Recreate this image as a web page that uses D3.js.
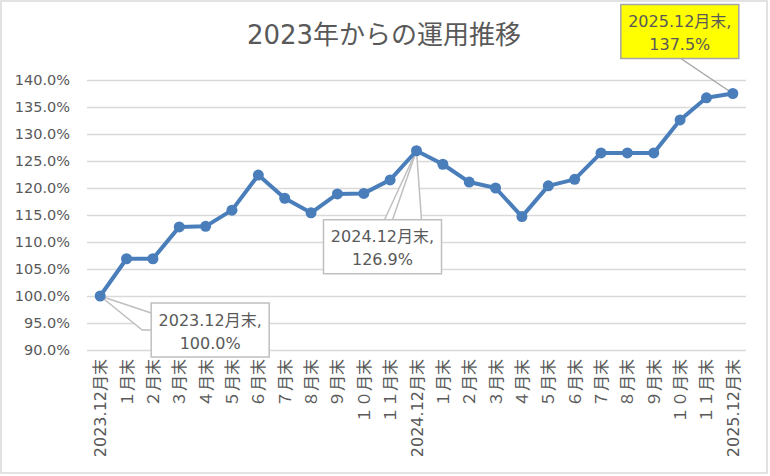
<!DOCTYPE html>
<html>
<head>
<meta charset="utf-8">
<script src="https://cdn.jsdelivr.net/npm/d3@7"></script>
<style>
  body { margin: 0; background: #fff; }
  text { font-family: "DejaVu Sans", "Noto Sans CJK JP", sans-serif; fill: #595959; }
</style>
</head>
<body>
<div id="chart"></div>
<script>
const title = '2023年からの運用推移'
const months = ['2023.12月末', '１月末', '２月末', '３月末', '４月末', '５月末', '６月末', '７月末', '８月末', '９月末', '１０月末', '１１月末',
    '2024.12月末', '１月末', '２月末', '３月末', '４月末', '５月末', '６月末', '７月末', '８月末', '９月末', '１０月末', '１１月末', '2025.12月末']
const values = [100.0, 106.9, 106.9, 112.8, 112.9, 115.9, 122.4, 118.1, 115.4, 118.9, 119.0, 121.5,
    126.9, 124.4, 121.1, 120.0, 114.7, 120.4, 121.6, 126.5, 126.5, 126.5, 132.6, 136.7, 137.5]
const yTicks = [90, 95, 100, 105, 110, 115, 120, 125, 130, 135, 140]
// callouts: which point, and the two text lines
const calloutIdx = [0, 12, 24]
const calloutText = [['2023.12月末,', '100.0%'], ['2024.12月末,', '126.9%'], ['2025.12月末,', '137.5%']]

const width = 770
const height = 476
const plotLeft = 87
const plotRight = 746
const plotTop = 80
const plotBottom = 350

const svg = d3.select('#chart').append('svg')
    .attr('width', width)
    .attr('height', height)

svg.append('rect')
    .attr('x', 1).attr('y', 1)
    .attr('width', 766).attr('height', 472)
    .attr('fill', 'white')
    .attr('stroke', '#d9d9d9')
    .attr('stroke-width', 1.5)

const xScale = d3.scalePoint().domain(d3.range(months.length)).range([plotLeft, plotRight]).padding(0.5)
const yScale = d3.scaleLinear().domain([90, 140]).range([plotBottom, plotTop])

svg.append('text')
    .attr('x', 384)
    .attr('y', 35)
    .attr('text-anchor', 'middle')
    .attr('dominant-baseline', 'central')
    .style('font-size', '26px')
    .text(title)

// grid + y labels
const yAxis = svg.append('g')
    .attr('transform', 'translate(' + plotLeft + ',0)')
    .call(d3.axisLeft(yScale).tickValues(yTicks).tickSize(-(plotRight - plotLeft)).tickPadding(17)
        .tickFormat(d => d.toFixed(1) + '%'))
yAxis.select('.domain').remove()
yAxis.selectAll('line').attr('stroke', '#d9d9d9').attr('stroke-width', 1.5)
yAxis.selectAll('text').style('font-size', '14.5px').attr('fill', '#595959')
    .attr('font-family', null)

// x labels, rotated
const xAxis = svg.append('g')
    .attr('transform', 'translate(0,' + plotBottom + ')')
    .call(d3.axisBottom(xScale).tickSize(0).tickFormat(i => months[i]))
xAxis.select('.domain').remove()
xAxis.selectAll('text')
    .attr('font-family', null)
    .attr('fill', '#595959')
    .style('font-size', '16px')
    .attr('transform', 'rotate(-90)')
    .attr('x', -9)
    .attr('y', 0)
    .attr('dy', null)
    .attr('dominant-baseline', 'central')
    .attr('text-anchor', 'end')

// callout wedges go under the series
const p = i => [xScale(i), yScale(values[i])]
const wedges = svg.append('g')
{
    const [x, y] = p(calloutIdx[0])
    wedges.append('path')
        .attr('d', `M${x + 51},${y + 17} L${x},${y} L${x + 42},${y + 34} L${x + 51},${y + 34}`)
        .attr('fill', 'white').attr('stroke', '#bfbfbf').attr('stroke-width', 1.5)
}
{
    const [x, y] = p(calloutIdx[1])
    wedges.append('path')
        .attr('d', `M${x - 32},${y + 69} L${x},${y} L${x + 5},${y + 69}`)
        .attr('fill', 'white').attr('stroke', '#bfbfbf').attr('stroke-width', 1.5)
    wedges.append('line')
        .attr('x1', x - 24).attr('y1', y + 69).attr('x2', x).attr('y2', y)
        .attr('stroke', '#bfbfbf').attr('stroke-width', 1.5)
}
{
    const [x, y] = p(calloutIdx[2])
    wedges.append('line')
        .attr('x1', x - 52).attr('y1', y - 35).attr('x2', x).attr('y2', y)
        .attr('stroke', '#a6a6a6').attr('stroke-width', 1.5)
}

const line = d3.line()
    .x((d, i) => xScale(i))
    .y(d => yScale(d))

svg.append('path')
    .datum(values)
    .attr('fill', 'none')
    .attr('stroke', '#4a7ebb')
    .attr('stroke-width', 4)
    .attr('stroke-linejoin', 'round')
    .attr('d', line)

svg.append('g').selectAll('circle')
    .data(values)
    .join('circle')
    .attr('cx', (d, i) => xScale(i))
    .attr('cy', d => yScale(d))
    .attr('r', 5.5)
    .attr('fill', '#4a7ebb')

// callout boxes, offset from their point
const boxOffset = [[51, 7], [-93, 69], [-112, -89]]
const boxFill = ['white', 'white', '#ffff00']
const boxStroke = ['#bfbfbf', '#bfbfbf', '#a6a6a6']
calloutIdx.forEach((idx, k) => {
    const [x, y] = p(idx)
    const bx = x + boxOffset[k][0]
    const by = y + boxOffset[k][1]
    const g = svg.append('g')
    g.append('rect')
        .attr('x', bx).attr('y', by)
        .attr('width', 118).attr('height', 54)
        .attr('fill', boxFill[k])
        .attr('stroke', boxStroke[k])
        .attr('stroke-width', 1.5)
    calloutText[k].forEach((t, j) => {
        g.append('text')
            .attr('x', bx + 59)
            .attr('y', by + 17 + j * 23)
            .attr('text-anchor', 'middle')
            .attr('dominant-baseline', 'central')
            .style('font-size', '16px')
            .text(t)
    })
})
</script>
</body>
</html>
